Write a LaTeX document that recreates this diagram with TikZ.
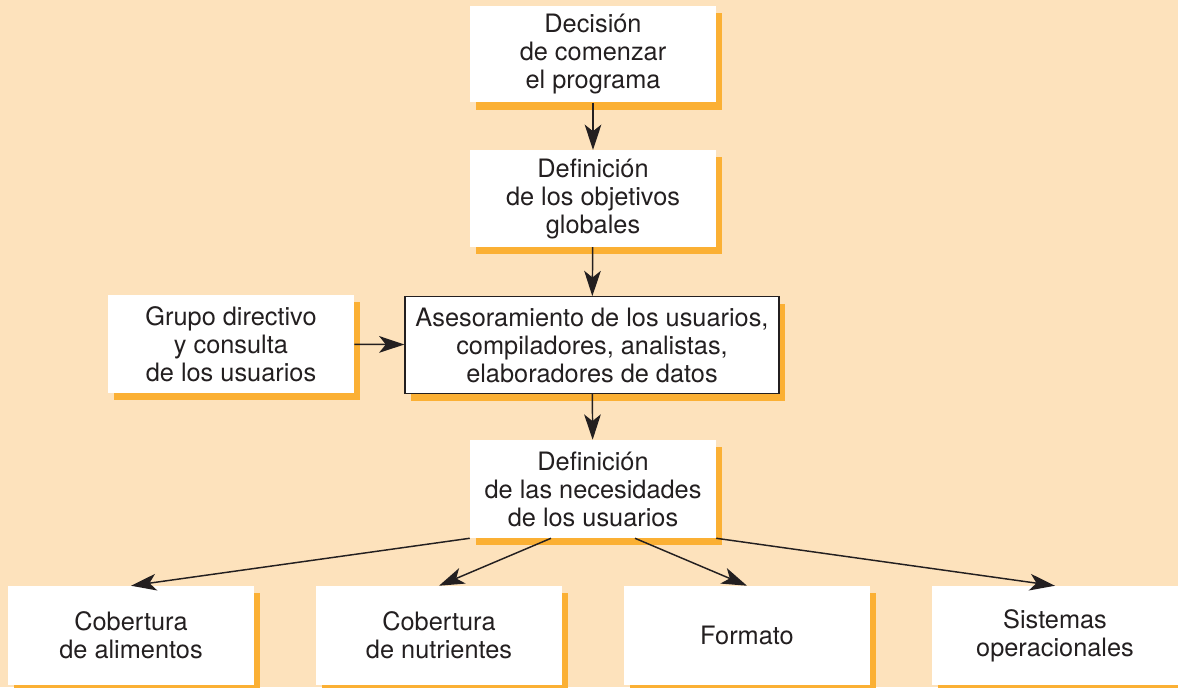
\documentclass[tikz,border=0pt]{standalone}
\usepackage{fontspec}
\setmainfont{TeX Gyre Heros}
\usepackage{tikz}
\usetikzlibrary{arrows.meta,shadows}
\usepackage{xcolor}
\definecolor{fondo}{HTML}{FDE2BC}
\definecolor{sombra}{HTML}{FBB034}
\definecolor{tinta}{HTML}{231F20}

\tikzset{
  caja/.style={fill=white, text=tinta, align=center, inner sep=0pt,
    font=\fontsize{19}{21}\selectfont,
    minimum width=184.5pt, minimum height=72.5pt,
    drop shadow={shadow xshift=4.2pt, shadow yshift=-5.4pt, fill=sombra, opacity=1}},
  flecha/.style={draw=tinta, line width=1.1pt, -{Stealth[length=19pt,width=12.5pt,inset=5pt]}}
}

\begin{document}
\begin{tikzpicture}[x=0.75pt, y=-0.75pt]
\fill[fondo] (0,0) rectangle (1178,687);
\useasboundingbox (0,0) rectangle (1178,687);

\node[caja] (decision) at (593,54) {Decisión\\de comenzar\\el programa};
\node[caja] (objetivos) at (593,198.5) {Definición\\de los objetivos\\globales};
\node[caja, minimum width=280.5pt, draw=tinta, line width=0.8pt] (asesor) at (592,345) {Asesoramiento de los usuarios,\\compiladores, analistas,\\elaboradores de datos};
\node[caja, minimum height=73.5pt] (grupo) at (231,344) {Grupo directivo\\y consulta\\de los usuarios};
\node[caja, minimum height=73.5pt] (necesid) at (593,489) {Definición\\de las necesidades\\de los usuarios};

% fila de abajo
\foreach \nom/\x/\txt in {alim/131/{Cobertura\\de alimentos}, nutri/439/{Cobertura\\de nutrientes},
  formato/747/{Formato}, sistemas/1055/{Sistemas\\operacionales}}{
  \node[caja, minimum height=74.25pt] (\nom) at (\x,635.5) {\txt};
}

\draw[flecha] (decision) -- (objetivos);
\draw[flecha] (objetivos) -- (asesor);
\draw[flecha] (grupo) -- (asesor);
\draw[flecha] (asesor) -- (necesid);

\draw[flecha] (necesid.south west) -- (alim.north);
\draw[flecha] ([xshift=-31.5pt]necesid.south) -- (nutri.north);
\draw[flecha] ([xshift=31.5pt]necesid.south) -- (formato.north);
\draw[flecha] (necesid.south east) -- (sistemas.north);
\end{tikzpicture}
\end{document}
